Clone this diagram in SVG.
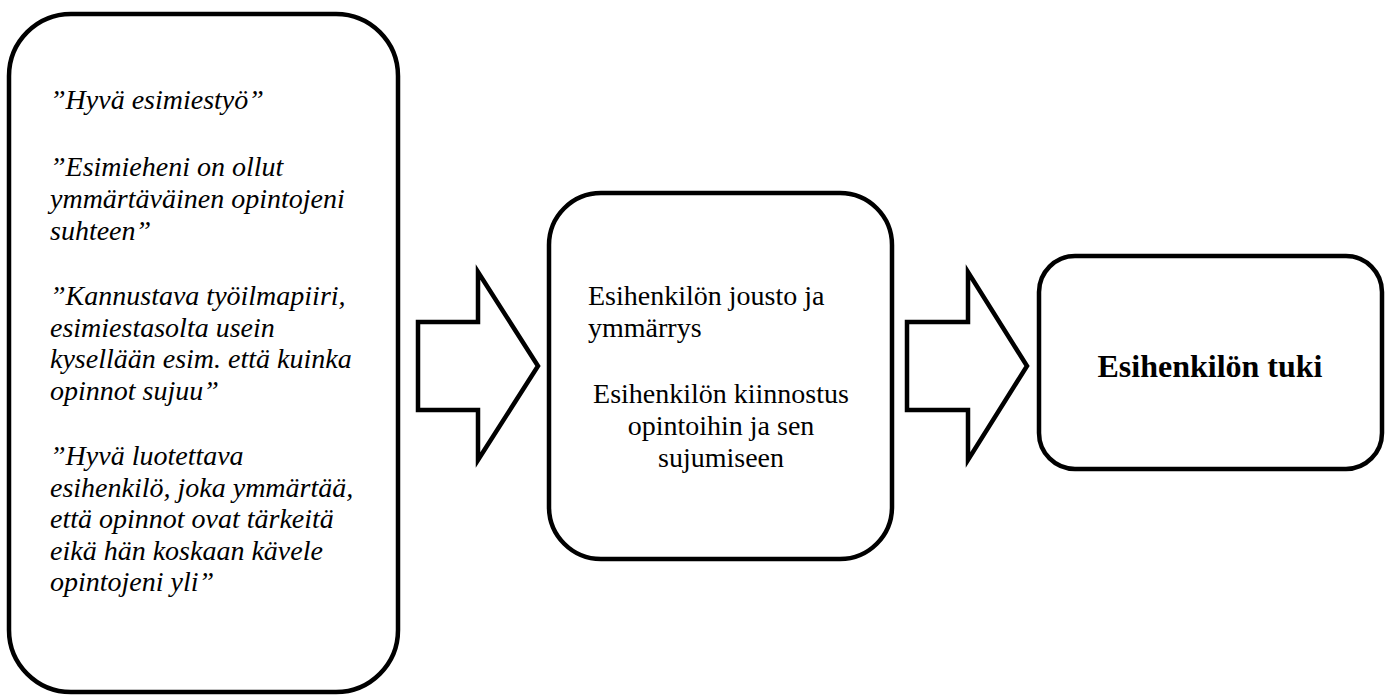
<svg xmlns="http://www.w3.org/2000/svg" width="1391" height="695" viewBox="0 0 1391 695">
  <style>
    .box { fill: #ffffff; stroke: #000000; stroke-width: 4.5; }
    .arrow { fill: #ffffff; stroke: #000000; stroke-width: 4.5; stroke-linejoin: miter; }
    .quote { font-family: "Liberation Serif", "Times New Roman", serif; font-size: 28px; font-style: italic; fill: #000000; }
    .plain { font-family: "Liberation Serif", "Times New Roman", serif; font-size: 28px; fill: #000000; }
    .title { font-family: "Liberation Serif", "Times New Roman", serif; font-size: 32px; font-weight: bold; fill: #000000; }
  </style>
  <rect x="0" y="0" width="1391" height="695" fill="#ffffff"/>

  <!-- Quotations from the respondents -->
  <g id="quotes">
    <rect class="box" x="9" y="14" width="389" height="678" rx="62" ry="62"/>
    <text class="quote" x="50" y="109">”Hyvä esimiestyö”</text>
    <text class="quote" x="50" y="176">”Esimieheni on ollut</text>
    <text class="quote" x="50" y="208">ymmärtäväinen opintojeni</text>
    <text class="quote" x="50" y="240">suhteen”</text>
    <text class="quote" x="50" y="305">”Kannustava työilmapiiri,</text>
    <text class="quote" x="50" y="337">esimiestasolta usein</text>
    <text class="quote" x="50" y="368">kysellään esim. että kuinka</text>
    <text class="quote" x="50" y="400">opinnot sujuu”</text>
    <text class="quote" x="50" y="465">”Hyvä luotettava</text>
    <text class="quote" x="50" y="497">esihenkilö, joka ymmärtää,</text>
    <text class="quote" x="50" y="528">että opinnot ovat tärkeitä</text>
    <text class="quote" x="50" y="560">eikä hän koskaan kävele</text>
    <text class="quote" x="50" y="591">opintojeni yli”</text>
  </g>

  <!-- Sub-themes -->
  <g id="subthemes">
    <rect class="box" x="549" y="193" width="343" height="366" rx="52" ry="52"/>
    <text class="plain" x="588" y="305">Esihenkilön jousto ja</text>
    <text class="plain" x="588" y="337">ymmärrys</text>
    <text class="plain" x="721" y="403" text-anchor="middle">Esihenkilön kiinnostus</text>
    <text class="plain" x="721" y="435" text-anchor="middle">opintoihin ja sen</text>
    <text class="plain" x="721" y="467" text-anchor="middle">sujumiseen</text>
  </g>

  <!-- Main theme -->
  <g id="theme">
    <rect class="box" x="1039" y="256" width="343" height="213" rx="36" ry="36"/>
    <text class="title" x="1210" y="377" text-anchor="middle">Esihenkilön tuki</text>
  </g>

  <!-- Block arrows between the stages -->
  <g id="connectors">
    <polygon class="arrow" points="418,322 478,322 478,272 538,366 478,460 478,410 418,410"/>
    <polygon class="arrow" points="907,322 968,322 968,272 1027,366 968,460 968,410 907,410"/>
  </g>
</svg>
